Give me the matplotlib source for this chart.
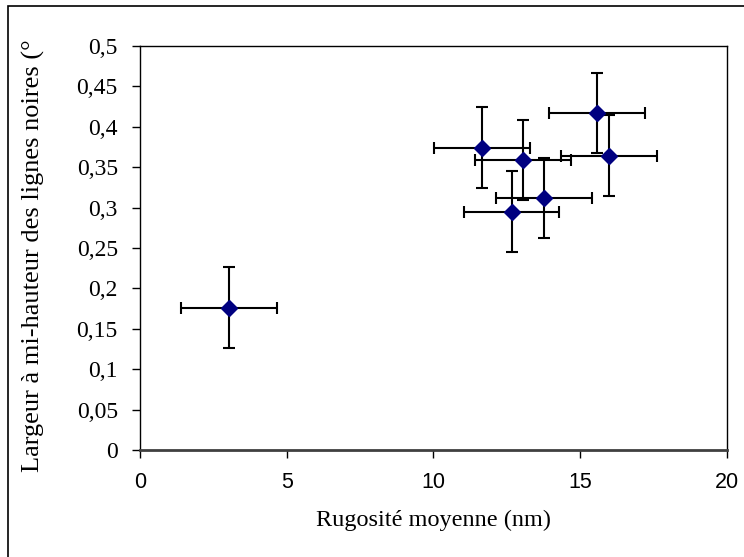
import matplotlib.pyplot as plt
from matplotlib.patches import Rectangle

# Data
rugosite = [3.04, 11.66, 13.06, 13.77, 12.66, 15.57, 15.98]
largeur = [0.176, 0.374, 0.359, 0.312, 0.295, 0.417, 0.364]
err_x = [1.63, 1.63, 1.63, 1.64, 1.63, 1.65, 1.63]
err_y = [0.05, 0.05, 0.05, 0.05, 0.05, 0.05, 0.05]

x_ticks = [0, 5, 10, 15, 20]
y_ticks = [0, 0.05, 0.1, 0.15, 0.2, 0.25, 0.3, 0.35, 0.4, 0.45, 0.5]
y_labels = ["0", "0,05", "0,1", "0,15", "0,2", "0,25", "0,3", "0,35", "0,4", "0,45", "0,5"]

serif = ["Liberation Serif", "DejaVu Serif"]
sans = ["Liberation Sans", "DejaVu Sans"]

fig = plt.figure(figsize=(7.44, 5.57), dpi=100)
ax = fig.add_axes([140 / 744, 1 - 450 / 557, 587 / 744, 404 / 557])

ax.errorbar(rugosite, largeur, xerr=err_x, yerr=err_y, fmt="none",
            ecolor="black", elinewidth=1.5, capsize=4, capthick=1.5, zorder=2)
ax.plot(rugosite, largeur, linestyle="none", marker="D", markersize=8,
        color="#000080", markeredgecolor="#000080", zorder=3)

ax.set_xlim(0, 20)
ax.set_ylim(0, 0.5)
ax.set_xticks(x_ticks)
ax.set_xticklabels([str(t) for t in x_ticks], family=sans, fontsize=15.5)
ax.set_yticks(y_ticks)
ax.set_yticklabels(y_labels, family=serif, fontsize=17)
ax.tick_params(axis="x", direction="out", length=6, width=1, pad=10)
ax.tick_params(axis="y", direction="out", length=6, width=1, pad=10)

for side in ["top", "right", "left"]:
    ax.spines[side].set_linewidth(1)
    ax.spines[side].set_color("black")
ax.spines["bottom"].set_color("#404040")
ax.spines["bottom"].set_linewidth(2)

ax.set_xlabel("Rugosité moyenne (nm)", family=serif, fontsize=17.5, labelpad=12)

fig.text(33 / 744, 1 - 472 / 557, "Largeur à mi-hauteur des lignes noires (°",
         rotation=90, ha="center", va="bottom", family=serif, fontsize=19)

# outer frame of the chart area
fig.add_artist(Rectangle((8 / 744, -0.1), 1.2, 1.1 - 6 / 557,
                         transform=fig.transFigure, fill=False,
                         edgecolor="black", linewidth=1.2))

fig.savefig("out.png", dpi=100)
